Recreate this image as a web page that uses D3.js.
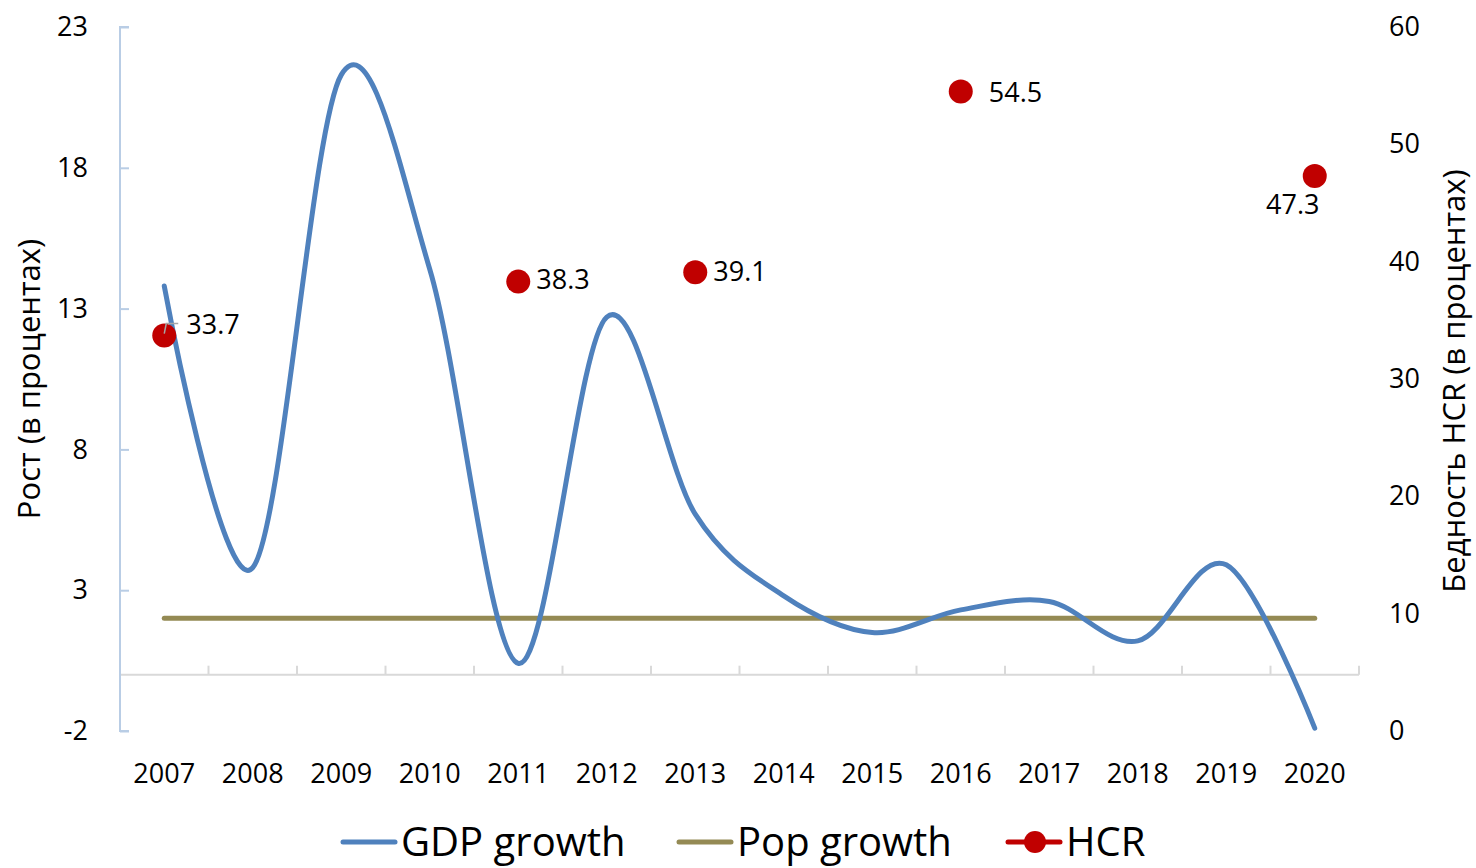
<!DOCTYPE html>
<html>
<head>
<meta charset="utf-8">
<script src="https://cdn.jsdelivr.net/npm/d3@7"></script>
<style>
  html, body { margin: 0; padding: 0; background: #fff; }
  svg { display: block; font-family: "Open Sans", "Noto Sans", sans-serif; }
</style>
</head>
<body>
<svg id="chart" width="1476" height="868"></svg>
<script>
const years = ["2007","2008","2009","2010","2011","2012","2013","2014","2015","2016","2017","2018","2019","2020"];
const gdpGrowth = [13.8, 3.8, 21.3, 14.4, 0.4, 12.7, 5.7, 2.8, 1.5, 2.3, 2.6, 1.2, 3.9, -1.9];
const popGrowth = [2.0, 2.0, 2.0, 2.0, 2.0, 2.0, 2.0, 2.0, 2.0, 2.0, 2.0, 2.0, 2.0, 2.0];
const hcrYears = ["2007", "2011", "2013", "2016", "2020"];
const hcrValues = [33.7, 38.3, 39.1, 54.5, 47.3];
const leftTicks = [-2, 3, 8, 13, 18, 23];
const rightTicks = [0, 10, 20, 30, 40, 50, 60];
const seriesNames = ["GDP growth", "Pop growth", "HCR"];

const colors = { gdp: "#4f81bd", pop: "#948a54", hcr: "#c00000" };

const svg = d3.select("#chart");
const plot = { left: 120, right: 1359, top: 27, bottom: 731 };

const x = d3.scaleBand().domain(years).range([plot.left, plot.right]);
const xc = d => x(d) + x.bandwidth() / 2;
const yL = d3.scaleLinear().domain([-2, 23]).range([plot.bottom, plot.top]);
const yR = d3.scaleLinear().domain([0, 60]).range([plot.bottom, plot.top]);

// X axis line at zero
const x0 = yL(0);
svg.append("line")
  .attr("x1", plot.left).attr("x2", plot.right)
  .attr("y1", x0).attr("y2", x0)
  .attr("stroke", "#d9d9d9").attr("stroke-width", 2);
const bounds = years.slice(1).map(d => x(d)).concat([plot.right]);
svg.selectAll(".xtick").data(bounds).enter().append("line")
  .attr("x1", d => d).attr("x2", d => d)
  .attr("y1", x0).attr("y2", x0 - 9)
  .attr("stroke", "#d9d9d9").attr("stroke-width", 2);

// X labels
svg.selectAll(".xlab").data(years).enter().append("text")
  .attr("x", d => xc(d)).attr("y", 783)
  .attr("text-anchor", "middle")
  .attr("font-size", 27).attr("fill", "#000")
  .text(d => d);

// Left axis
const leftAxis = d3.axisRight(yL).tickValues(leftTicks).tickSize(9).tickFormat(d => String(d));
const gL = svg.append("g").attr("transform", `translate(${plot.left},0)`).call(leftAxis);
gL.select(".domain").attr("stroke", "#b9cde5").attr("stroke-width", 2).attr("d", `M9,${plot.top}H0V${plot.bottom}H9`);
gL.selectAll(".tick line").attr("stroke", "#b9cde5").attr("stroke-width", 2);
gL.selectAll(".tick text")
  .attr("x", -32).attr("text-anchor", "end")
  .attr("font-size", 27).attr("font-family", "Open Sans").attr("fill", "#000");

// Right axis (labels only)
const rightAxis = d3.axisRight(yR).tickValues(rightTicks).tickSize(0).tickFormat(d => String(d));
const gR = svg.append("g").attr("transform", `translate(${plot.right},0)`).call(rightAxis);
gR.select(".domain").remove();
gR.selectAll(".tick text")
  .attr("x", 30).attr("text-anchor", "start")
  .attr("font-size", 27).attr("font-family", "Open Sans").attr("fill", "#000");

// Axis titles
svg.append("text")
  .attr("transform", `translate(40,${(plot.top + plot.bottom) / 2}) rotate(-90)`)
  .attr("text-anchor", "middle").attr("font-size", 31).attr("fill", "#000")
  .text("Рост (в процентах)");
svg.append("text")
  .attr("transform", `translate(1465,${(plot.top + plot.bottom) / 2 + 2}) rotate(-90)`)
  .attr("text-anchor", "middle").attr("font-size", 31).attr("fill", "#000")
  .text("Бедность HCR (в процентах)");

// Lines
svg.append("path").datum(popGrowth)
  .attr("d", d3.line().x((d, i) => xc(years[i])).y(d => yL(d)))
  .attr("fill", "none").attr("stroke", colors.pop).attr("stroke-width", 5)
  .attr("stroke-linecap", "round");
svg.append("path").datum(gdpGrowth)
  .attr("d", d3.line().x((d, i) => xc(years[i])).y(d => yL(d)).curve(d3.curveCardinal.tension(0)))
  .attr("fill", "none").attr("stroke", colors.gdp).attr("stroke-width", 5)
  .attr("stroke-linecap", "round");

// HCR points
const hcr = hcrYears.map((y, i) => ({ year: y, value: hcrValues[i] }));
svg.selectAll(".hcr").data(hcr).enter().append("circle")
  .attr("cx", d => xc(d.year)).attr("cy", d => yR(d.value))
  .attr("r", 12).attr("fill", colors.hcr);

// Leader line for 2007 label
const p07 = hcr[0];
svg.append("path")
  .attr("d", `M${xc(p07.year)},${yR(p07.value) - 2}L${xc(p07.year) + 2},${yR(p07.value) - 12}H${xc(p07.year) + 14}`)
  .attr("fill", "none").attr("stroke", "#a6a6a6").attr("stroke-width", 1.5);

// Label placement (style)
const labelOffset = {
  "2007": [22, -11, "start"],
  "2011": [18, -2, "start"],
  "2013": [18, -1, "start"],
  "2016": [28, 1, "start"],
  "2020": [-22, 29, "middle"]
};
svg.selectAll(".hlab").data(hcr).enter().append("text")
  .attr("x", d => xc(d.year) + labelOffset[d.year][0])
  .attr("y", d => yR(d.value) + labelOffset[d.year][1])
  .attr("dy", "0.35em")
  .attr("text-anchor", d => labelOffset[d.year][2])
  .attr("font-size", 27).attr("fill", "#000")
  .text(d => d3.format(".1f")(d.value));

// Legend
const legY = 842;
const leg = svg.append("g");
const items = [
  { name: seriesNames[0], color: colors.gdp, marker: false, x1: 343 },
  { name: seriesNames[1], color: colors.pop, marker: false, x1: 679 },
  { name: seriesNames[2], color: colors.hcr, marker: true, x1: 1008 }
];
items.forEach(it => {
  leg.append("line")
    .attr("x1", it.x1).attr("x2", it.x1 + 52)
    .attr("y1", legY).attr("y2", legY)
    .attr("stroke", it.color).attr("stroke-width", 5).attr("stroke-linecap", "round");
  if (it.marker) {
    leg.append("circle").attr("cx", it.x1 + 27).attr("cy", legY).attr("r", 11).attr("fill", it.color);
  }
  leg.append("text")
    .attr("x", it.x1 + 58).attr("y", 856)
    .attr("font-size", 40).attr("fill", "#000")
    .text(it.name);
});
</script>
</body>
</html>
